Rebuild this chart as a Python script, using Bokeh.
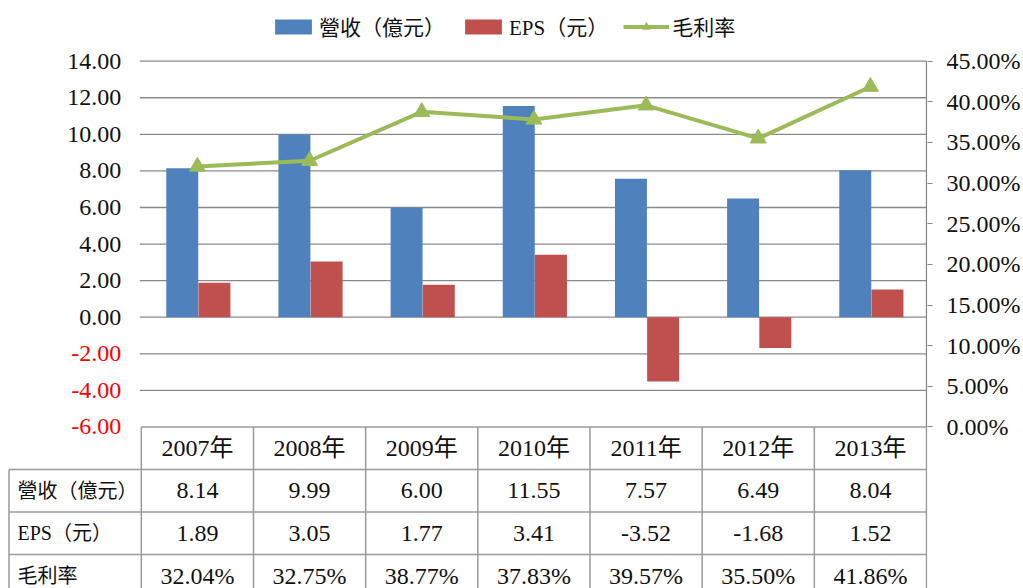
from bokeh.plotting import figure
from bokeh.models import (Range1d, LinearAxis, FixedTicker, PrintfTickFormatter,
                          Legend, LegendItem, ColumnDataSource)
from bokeh.core.properties import value
from bokeh.transform import dodge
from bokeh.embed import file_html
from bokeh.resources import INLINE

# ---------------- data ----------------
years = ["2007年", "2008年", "2009年", "2010年", "2011年", "2012年", "2013年"]
revenue = [8.14, 9.99, 6.00, 11.55, 7.57, 6.49, 8.04]
eps = [1.89, 3.05, 1.77, 3.41, -3.52, -1.68, 1.52]
margin = [32.04, 32.75, 38.77, 37.83, 39.57, 35.50, 41.86]
left_ticks = [-6, -4, -2, 0, 2, 4, 6, 8, 10, 12, 14]
right_ticks = [0, 5, 10, 15, 20, 25, 30, 35, 40, 45]
series_names = ["營收（億元）", "EPS（元）", "毛利率"]

# ---------------- geometry ----------------
W, H = 1023, 588
FRAME_R = 928                      # frame right edge in px
RIGHT_BORDER = W - FRAME_R
PX_X = 112.29                      # px per category
X1 = 6.5 + 1.0 / PX_X
X0 = X1 - FRAME_R / PX_X
PX_Y = 18.286                      # px per left-axis unit
TOP_PX = 60.7                      # frame top to "14" tick
Y1 = 14 + TOP_PX / PX_Y
Y0 = Y1 - H / PX_Y
P0 = (Y0 + 6) * 2.25
P1 = (Y1 + 6) * 2.25
ROW = 42.5 / PX_Y
FONT = "Liberation Serif, Noto Sans CJK TC"
BLUE, RED, GREEN = "#4F81BD", "#C0504D", "#9BBB59"
TXT = "#111111"
XL_BORDER = X0 + 8.5 / PX_X
XL_TEXT = X0 + 17 / PX_X
X_TICKLAB = -0.5 - 20 / PX_X

xs = list(range(len(years)))
src = ColumnDataSource(dict(x=xs, rev=revenue, eps=eps, margin=margin))

p = figure(width=W, height=H, x_range=Range1d(X0, X1), y_range=Range1d(Y0, Y1),
           output_backend="svg", toolbar_location=None,
           x_axis_location=None, y_axis_location=None,
           min_border_left=0, min_border_top=0, min_border_bottom=0,
           min_border_right=RIGHT_BORDER)
p.grid.visible = False
p.outline_line_color = None
p.background_fill_color = "white"
p.extra_y_ranges = {"pct": Range1d(P0, P1)}

# gridlines
grid_ticks = [t for t in left_ticks if t > left_ticks[0]]
p.segment(x0=-0.5 - 1.5 / PX_X, x1=6.5, y0=grid_ticks, y1=grid_ticks,
          line_color="#8a8a8a", line_width=1.3)

# bars
r_rev = p.vbar(x=dodge("x", -0.135, range=p.x_range), top="rev", bottom=0,
               width=0.285, source=src, fill_color=BLUE, line_color=None)
r_eps = p.vbar(x=dodge("x", 0.152, range=p.x_range), top="eps", bottom=0,
               width=0.285, source=src, fill_color=RED, line_color=None)

# line
r_line = p.line(x="x", y="margin", source=src, y_range_name="pct",
                line_color=GREEN, line_width=4)
r_mark = p.scatter(x="x", y="margin", source=src, y_range_name="pct",
                   marker="triangle", size=16, fill_color=GREEN, line_color=GREEN)

# left tick labels
p.text(x=[X_TICKLAB] * len(left_ticks), y=left_ticks,
       text=[f"{t:.2f}" for t in left_ticks],
       text_color=["#FF0000" if t < 0 else TXT for t in left_ticks],
       text_font=value(FONT), text_font_size="24px",
       text_align="right", text_baseline="middle")

# right axis
ax = LinearAxis(y_range_name="pct", ticker=FixedTicker(ticks=right_ticks),
                formatter=PrintfTickFormatter(format="%.2f%%"))
ax.axis_line_color = None
ax.major_tick_out = 5
ax.major_tick_in = 0
ax.minor_tick_out = 0
ax.minor_tick_in = 0
ax.major_tick_line_color = "#868686"
ax.major_label_text_font = FONT
ax.major_label_text_font_size = "24px"
ax.major_label_text_color = TXT
ax.major_label_standoff = 14
p.add_layout(ax, "right")
p.segment(x0=[6.5], x1=[6.5], y0=[-6], y1=[14], line_color="#868686", line_width=1.3)

# table lines
row_ys = [-6 - ROW * k for k in range(4)]
bottom = Y0 - 1
lc, lw = "#9a9a9a", 1.5
p.segment(x0=[-0.5], x1=[6.5], y0=[row_ys[0]], y1=[row_ys[0]], line_color=lc, line_width=lw)
p.segment(x0=[XL_BORDER] * 3, x1=[6.5] * 3, y0=row_ys[1:], y1=row_ys[1:],
          line_color=lc, line_width=lw)
vx = [-0.5 + k for k in range(len(years) + 1)]
p.segment(x0=vx, x1=vx, y0=[-6] * len(vx), y1=[bottom] * len(vx), line_color=lc, line_width=lw)
p.segment(x0=[XL_BORDER], x1=[XL_BORDER], y0=[row_ys[1]], y1=[bottom], line_color=lc, line_width=lw)

# table texts
def cell_y(r):
    return -6 - ROW * (r + 0.5)

p.text(x=xs, y=[cell_y(0)] * 7, text=years, text_color=TXT, text_font=value(FONT),
       text_font_size="24px", text_align="center", text_baseline="middle")
p.text(x=xs, y=[cell_y(1)] * 7, text=[f"{v:.2f}" for v in revenue], text_color=TXT,
       text_font=value(FONT), text_font_size="24px", text_align="center", text_baseline="middle")
p.text(x=xs, y=[cell_y(2)] * 7, text=[f"{v:.2f}" for v in eps], text_color=TXT,
       text_font=value(FONT), text_font_size="24px", text_align="center", text_baseline="middle")
p.text(x=xs, y=[cell_y(3)] * 7, text=[f"{v:.2f}%" for v in margin], text_color=TXT,
       text_font=value(FONT), text_font_size="24px", text_align="center", text_baseline="middle")
p.text(x=[XL_TEXT] * 3, y=[cell_y(1), cell_y(2), cell_y(3)], text=series_names,
       text_color=TXT, text_font=value(FONT), text_font_size="20px",
       text_align="left", text_baseline="middle")

# legend
legend = Legend(items=[LegendItem(label=series_names[0], renderers=[r_rev]),
                       LegendItem(label=series_names[1], renderers=[r_eps]),
                       LegendItem(label=series_names[2], renderers=[r_line, r_mark])],
                orientation="horizontal", location=(270, 547),
                glyph_width=46, glyph_height=19, label_standoff=3, spacing=15,
                padding=0, margin=0, border_line_color=None,
                background_fill_alpha=0, label_text_font=FONT,
                label_text_font_size="21px", label_text_color=TXT)
p.add_layout(legend, "center")

open("out.html", "w").write(file_html(p, INLINE))
